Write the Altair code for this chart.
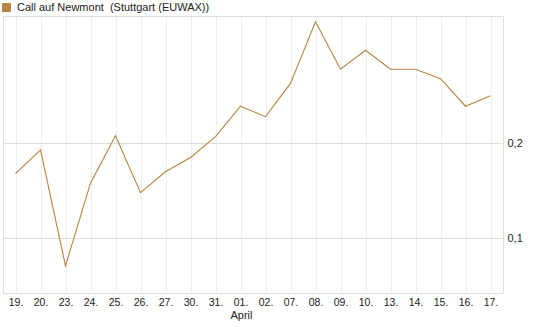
import altair as alt
import pandas as pd

dates = ["19.", "20.", "23.", "24.", "25.", "26.", "27.", "30.", "31.", "01.",
         "02.", "07.", "08.", "09.", "10.", "13.", "14.", "15.", "16.", "17."]
values = [0.168, 0.193, 0.071, 0.158, 0.208, 0.148, 0.170, 0.185, 0.207, 0.239,
          0.228, 0.263, 0.328, 0.278, 0.298, 0.278, 0.278, 0.268, 0.239, 0.250]
series = "Call auf Newmont \u00a0(Stuttgart (EUWAX))"
y_ticks = [0.1, 0.2]

df = pd.DataFrame({"date": dates, "value": values, "series": [series] * len(dates)})

FONT = "Liberation Sans"

chart = alt.Chart(df).mark_line(strokeWidth=1.1, clip=False).encode(
    x=alt.X("date:O", sort=dates, title="April",
            scale=alt.Scale(type="point", padding=0.5),
            axis=alt.Axis(labelAngle=0, ticks=False, domain=False,
                          grid=True, gridColor="#eeeeee", labelPadding=4,
                          labelFontSize=10.5, labelColor="#222222", labelFont=FONT,
                          titleFont=FONT, titleFontSize=11, titleFontWeight="normal",
                          titleColor="#222222", titleX=238, titleY=25,
                          titleAlign="center", titleBaseline="alphabetic")),
    y=alt.Y("value:Q", title=None,
            scale=alt.Scale(domain=[0.0424, 0.334], nice=False, zero=False),
            axis=alt.Axis(orient="right", values=y_ticks, ticks=False, domain=False,
                          grid=True, gridColor="#dddddd", labelPadding=4,
                          labelFontSize=11, labelColor="#222222", labelFont=FONT,
                          labelExpr="replace(format(datum.value, '.1f'), '.', ',')")),
    color=alt.Color("series:N", scale=alt.Scale(range=["#b5843f"]),
                    legend=alt.Legend(title=None, orient="none", legendX=-2, legendY=-14,
                                      symbolType="square", symbolSize=64,
                                      symbolFillColor="#b38743", symbolStrokeColor="#5a4322",
                                      symbolStrokeWidth=1, labelFontSize=11,
                                      labelFont=FONT, labelColor="#222222",
                                      labelOffset=5, labelLimit=400, padding=0)),
).properties(
    width=500, height=277,
    padding={"left": 3, "top": 16, "right": 42, "bottom": 34},
    autosize=alt.AutoSizeParams(type="none"),
).configure_view(stroke="#dddddd", strokeWidth=1).configure(background="white")

chart.save("out.html", embed_options={"renderer": "svg", "actions": False})
